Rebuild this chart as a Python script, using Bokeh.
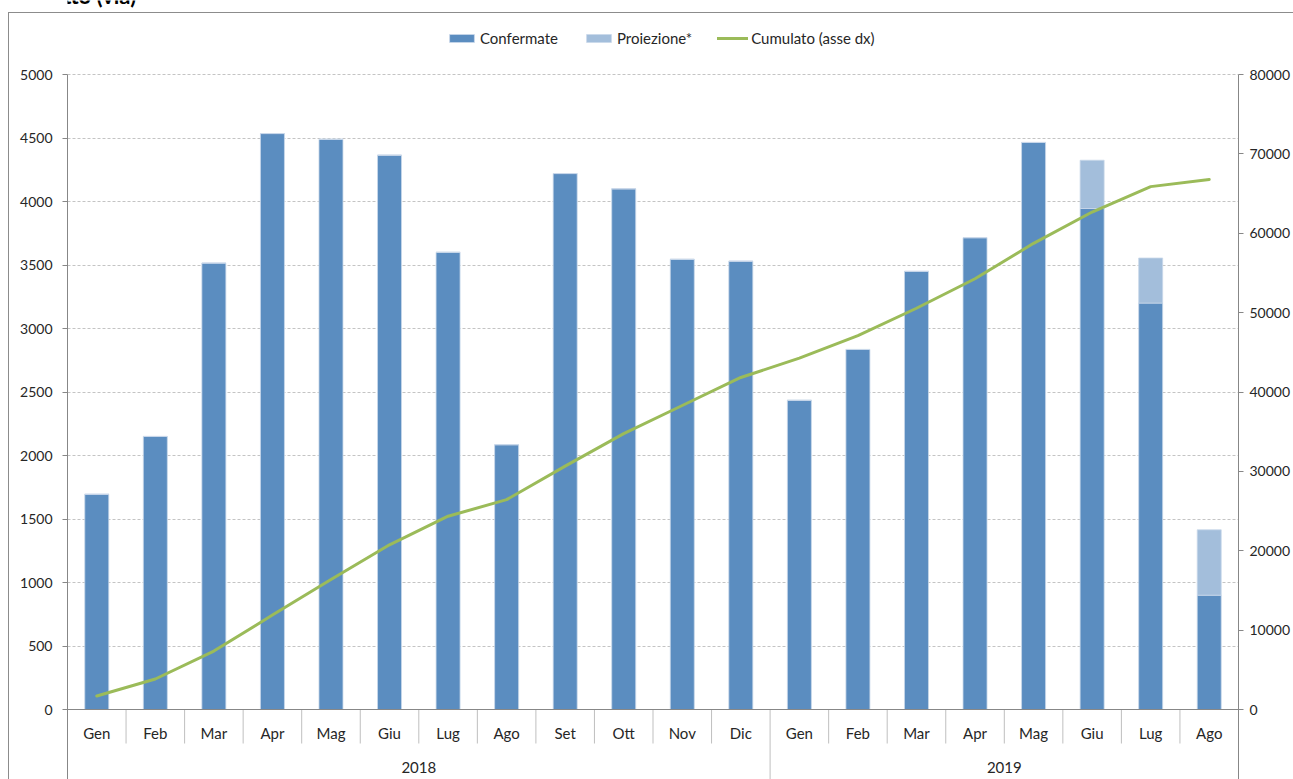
from bokeh.plotting import figure
from bokeh.models import (FactorRange, Range1d, LinearAxis, FixedTicker, Legend, LegendItem,
                          ColumnDataSource, Span, Grid)
from bokeh.embed import file_html
from bokeh.resources import INLINE
from bokeh.core.properties import value

# ---------------- data ----------------
years = ["2018"] * 12 + ["2019"] * 8
months = ["Gen", "Feb", "Mar", "Apr", "Mag", "Giu", "Lug", "Ago", "Set", "Ott", "Nov", "Dic",
          "Gen", "Feb", "Mar", "Apr", "Mag", "Giu", "Lug", "Ago"]
confermate = [1695, 2150, 3515, 4535, 4490, 4365, 3600, 2085, 4220, 4100, 3545, 3530,
              2435, 2835, 3450, 3715, 4465, 3945, 3200, 900]
proiezione = [0, 0, 0, 0, 0, 0, 0, 0, 0, 0, 0, 0,
              0, 0, 0, 0, 0, 380, 355, 515]
cumulato = [1695, 3845, 7360, 11895, 16385, 20750, 24350, 26435, 30655, 34755, 38300, 41830,
            44265, 47100, 50550, 54265, 58730, 62675, 65875, 66775]
left_ticks = [0, 500, 1000, 1500, 2000, 2500, 3000, 3500, 4000, 4500, 5000]
right_ticks = [0, 10000, 20000, 30000, 40000, 50000, 60000, 70000, 80000]
year_labels = ["2018", "2019"]
series_labels = ["Confermate", "Proiezione*", "Cumulato (asse dx)"]
title_text = "contratto (via)"

# ---------------- styling / geometry ----------------
FONT = "Lato"
TXT = "#262626"
AX = "#878787"
C_CONF = "#5B8DC0"
C_PROJ = "#A3BEDB"
C_CUM = "#9BBB59"

W, H = 1293, 779
FRAME_LEFT, FRAME_RIGHT = 67, 1241
LEFT_MAX = 5000
RIGHT_MAX = 80000
TOP_TICK_PX = 74      # pixel row of 5000 / 80000
ZERO_PX = 709         # pixel row of 0
px_per_left = (ZERO_PX - TOP_TICK_PX) / LEFT_MAX
px_per_right = (ZERO_PX - TOP_TICK_PX) / RIGHT_MAX
left_top = LEFT_MAX + TOP_TICK_PX / px_per_left
left_bottom = -(H - ZERO_PX) / px_per_left
right_top = RIGHT_MAX + TOP_TICK_PX / px_per_right
right_bottom = -(H - ZERO_PX) / px_per_right
cat_px = (FRAME_RIGHT - FRAME_LEFT) / len(months)


def at_row(py):
    """left-scale data value for a pixel row"""
    return (ZERO_PX - py) / px_per_left


factors = list(zip(years, months))
x_range = FactorRange(factors=factors, factor_padding=0, group_padding=0,
                      subgroup_padding=0, range_padding=0)

p = figure(width=W, height=H, x_range=x_range,
           y_range=Range1d(left_bottom, left_top),
           x_axis_location=None, y_axis_location=None,
           output_backend="svg", toolbar_location=None,
           min_border_left=FRAME_LEFT, min_border_right=W - FRAME_RIGHT,
           min_border_top=0, min_border_bottom=0)
p.outline_line_color = None
p.background_fill_color = None
p.border_fill_color = None
# outer chart-area border (left and top edges of the Excel chart box)
p.styles = {"background": "linear-gradient(#8C8C8C, #8C8C8C) 8px 12px / 1px 100% no-repeat, "
                          "linear-gradient(#8C8C8C, #8C8C8C) 8px 12px / 100% 1px no-repeat, white"}
p.extra_y_ranges = {"right": Range1d(right_bottom, right_top)}

# drop any default grids, add the dashed horizontal grid
p.center = [r for r in p.center if not isinstance(r, Grid)]
grid = Grid(dimension=1, ticker=FixedTicker(ticks=left_ticks[1:]),
            grid_line_color="#C4C4C4", grid_line_dash="3 2", grid_line_width=1)
p.add_layout(grid)

# axes
lax = LinearAxis(ticker=FixedTicker(ticks=left_ticks), bounds=(left_bottom, LEFT_MAX))
rax = LinearAxis(ticker=FixedTicker(ticks=right_ticks), y_range_name="right",
                 bounds=(right_bottom, RIGHT_MAX))
for ax, standoff in ((lax, 10), (rax, 6)):
    ax.axis_line_color = AX
    ax.major_tick_line_color = AX
    ax.major_tick_out = 5
    ax.major_tick_in = 0
    ax.minor_tick_line_color = None
    ax.major_label_standoff = standoff
    ax.major_label_text_font = FONT
    ax.major_label_text_font_size = "14px"
    ax.major_label_text_color = TXT
p.add_layout(lax, "left")
p.add_layout(rax, "right")

# bars
src = ColumnDataSource(data=dict(x=factors, conf=confermate, proj=proiezione))
bars = p.vbar_stack(["conf", "proj"], x="x", width=0.41, source=src,
                    color=[C_CONF, C_PROJ], line_color="#C9D8EA", line_width=0.8)

# zero line (category axis)
p.add_layout(Span(location=0, dimension="width", line_color=AX, line_width=1))

# cumulative line
lsrc = ColumnDataSource(data=dict(x=factors, cum=cumulato))
line = p.line("x", "cum", source=lsrc, y_range_name="right", line_color=C_CUM,
              line_width=3, line_cap="round", line_join="round")

# category separators
sx, sy1 = [], []
for i in range(1, len(factors)):
    sx.append(i)
    sy1.append(left_bottom if years[i] != years[i - 1] else at_row(743))
p.segment(x0=sx, x1=sx, y0=[0] * len(sx), y1=sy1, line_color="#BFBFBF", line_width=1)

# month labels
p.text(x=factors, y=[at_row(732)] * len(factors), text=months,
       text_font=value(FONT), text_font_size=value("15px"), text_color=TXT,
       text_align="center", text_baseline="middle")
# year labels
p.text(x=year_labels, y=[at_row(767)] * len(year_labels), text=year_labels,
       text_font=value(FONT), text_font_size=value("15px"), text_color=TXT,
       text_align="center", text_baseline="middle")

# chart title (only its lower edge is inside the picture)
p.text(x=[-FRAME_LEFT / cat_px], y=[at_row(-5)], text=[title_text],
       text_font=value(FONT), text_font_style="bold", text_font_size=value("22px"),
       text_color="#000000", text_align="left", text_baseline="alphabetic")

# legend
LEG_LEFT, LEG_TOP, LEG_H = 446, 28, 20
legend = Legend(items=[LegendItem(label=series_labels[0], renderers=[bars[0]]),
                       LegendItem(label=series_labels[1], renderers=[bars[1]]),
                       LegendItem(label=series_labels[2], renderers=[line])],
                orientation="horizontal",
                location=(LEG_LEFT - FRAME_LEFT, H - LEG_TOP - LEG_H),
                padding=0, margin=0, spacing=25, glyph_width=31, glyph_height=10,
                label_height=LEG_H, label_standoff=3, label_text_font=FONT,
                label_text_font_size="15px", label_text_color=TXT,
                background_fill_alpha=0, border_line_alpha=0)
p.add_layout(legend)

open("out.html", "w").write(file_html(p, INLINE))
